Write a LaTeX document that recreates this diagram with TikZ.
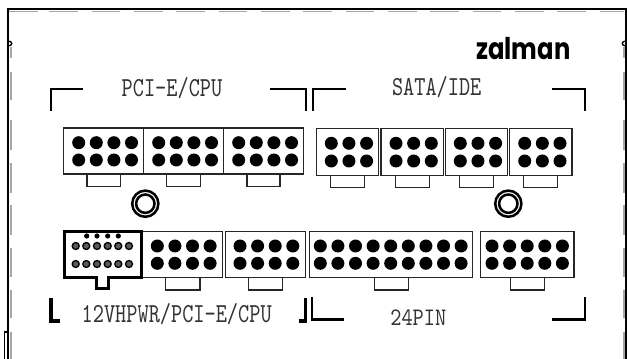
\documentclass[tikz,border=0pt]{standalone}
\usepackage{graphicx}
\usepackage{fontspec}
\newfontfamily\logofont{Poppins}[BoldFont={* Bold}]
\begin{document}
\begin{tikzpicture}[x=0.75pt,y=-0.75pt,
  frame/.style={line width=1.3pt,black},
  ghost/.style={line width=1.4pt,gray!70},
  bracket/.style={line width=1.7pt,black,line cap=butt},
  heavy/.style={line width=2.7pt,black},
  box/.style={line width=1pt,black!85,fill=white},
  heavybox/.style={line width=1.9pt,black},
  pin/.style={fill=black,draw=none},
  midpin/.style={fill=black!65,draw=black,line width=1pt},
  ring/.style={line width=1.9pt,black},
  label/.style={inner sep=0pt,outer sep=0pt,anchor=base,black!80}]
\useasboundingbox (0,0) rectangle (627,359);
% --- outer frame ---
\draw[frame] (8,359) -- (8,43) (8,43) -- (8,9) -- (627,9);
\draw[frame] (626,9) -- (626,359);
\draw[line width=1pt] (8,41) .. controls (13,41) and (13,46) .. (8,46);
\draw[line width=1pt] (626,41) .. controls (621,41) and (621,46) .. (626,46);
\draw[line width=0.9pt] (4.7,359) -- (4.7,332) -- (8,332);
% top dashes
\foreach \s in {9,49.3,91.7,134,176.3,218.6,261,303.3,345.6,388,430.3,472.6,515,557.3,599.6}
  \draw[ghost] (\s,11.5) -- ({min(\s+28.5,624)},11.5);
% side dashes
\foreach \xx in {10.7,624.3}{
  \foreach \a/\b in {47/58,72/100,120/150,163/193,205/235,248/277,290/318,332/359}
    \draw[ghost] (\xx,\a) -- (\xx,\b);
}
% --- brackets ---
\draw[bracket] (50.7,110.7) -- (50.7,88.7) -- (83.3,88.7);
\draw[bracket] (270,88.7) -- (305.8,88.7) -- (305.8,110.7);
\draw[bracket] (313.3,110.7) -- (313.3,88.7) -- (346.3,88.7);
\draw[bracket] (552,88.7) -- (584.7,88.7) -- (584.7,110.7);
\draw[heavy] (51,298) -- (51,321) -- (60,321);
\draw[heavy] (299,321) -- (305.5,321) -- (305.5,298);
\draw[bracket] (311.7,297) -- (311.7,319.6) -- (344.3,319.6);
\draw[bracket] (552,319.6) -- (584.7,319.6) -- (584.7,297);
% --- labels ---
\node[label] (pci) at (172,97) {\resizebox{75.4pt}{14.3pt}{\ttfamily PCI-E/CPU}};
\node[label] (sata) at (436.7,96) {\resizebox{67pt}{14.3pt}{\ttfamily SATA/IDE}};
\node[label] (hpwr) at (176.7,322.5) {\resizebox{142.5pt}{14.3pt}{\ttfamily 12VHPWR/PCI-E/CPU}};
\node[label] (pin24) at (418.3,325) {\resizebox{42pt}{11.8pt}{\ttfamily 24PIN}};
\node[inner sep=0pt,outer sep=0pt,anchor=base west] (logo) at (476.3,59.5)
  {\resizebox{70.5pt}{16.6pt}{\logofont\bfseries zalman}};
% --- top row: PCI-E/CPU ---
\foreach \l/\r/\ta/\tb in {63.7/143.7/87/120.3,143.7/223.7/166.7/200.3,223.7/303.3/247/280}{
  \draw[box] (\ta,174) rectangle (\tb,186.7);
  \draw[box] (\l,128) rectangle (\r,174);
  \foreach \k in {0,1,2,3}{
    \fill[pin] ({\l+15+17.6*\k},142.7) circle (6.5);
    \fill[pin] ({\l+15+17.6*\k},160) circle (6.5);
  }
}
% --- top row: SATA/IDE ---
\foreach \l/\r/\p/\ta/\tb in {316.3/378.7/331.3/330.3/364.3,381/443.7/396/395.3/429.3,445.3/507.7/460.3/459.7/493.7,509.3/572/524.7/523.7/557.7}{
  \draw[box] (\ta,175.3) rectangle (\tb,187.7);
  \draw[box] (\l,128.7) rectangle (\r,175.3);
  \foreach \k in {0,1,2}{
    \fill[pin] ({\p+17.65*\k},143.3) circle (6.5);
    \fill[pin] ({\p+17.65*\k},161) circle (6.5);
  }
}
% --- mounting rings ---
\foreach \cx in {145.3,508.3}{
  \draw[ring] (\cx,203.7) circle (13.1);
  \draw[ring] (\cx,203.7) circle (9.2);
}
% --- bottom row ---
\foreach \l/\r/\p/\n/\ta/\tb in {141.7/222.3/157.3/3/165.3/200,225.3/305.3/240/3/248.3/282.7,309.3/472.7/320.3/8/374.7/408.7,480.3/574/492/4/510.3/544.7}{
  \draw[box] (\ta,277.5) rectangle (\tb,290);
  \draw[box] (\l,231.3) rectangle (\r,277.5);
  \foreach \k in {0,...,\n}{
    \fill[pin] ({\p+17.6*\k},246) circle (6.5);
    \fill[pin] ({\p+17.6*\k},263.3) circle (6.5);
  }
}
% --- 12VHPWR socket ---
\draw[heavybox,fill=white] (64.7,231.7) -- (141.7,231.7) -- (141.7,277.3) -- (108.3,277.3) -- (108.3,288.7) -- (96.7,288.7) -- (96.7,277.3) -- (64.7,277.3) -- cycle;
\foreach \x in {86.7,97,107.7,118.3}
  \fill[pin] (\x,236) circle (2.6);
\foreach \x in {75.7,86.3,97,107.7,118.3,129}{
  \filldraw[midpin] (\x,246) circle (3.5);
  \filldraw[midpin] (\x,264) circle (3.5);
}
\end{tikzpicture}
\end{document}
